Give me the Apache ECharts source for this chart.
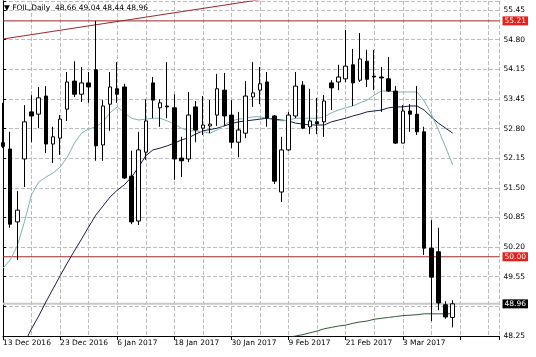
<!DOCTYPE html>
<html><head><meta charset="utf-8">
<script src="https://cdn.jsdelivr.net/npm/echarts@6/dist/echarts.min.js"></script>
<style>html,body{margin:0;padding:0;background:#fff}#c{width:536px;height:357px}</style>
</head><body><div id="c"></div>
<script>
const symbolName = 'FOIL,Daily';
const dates = ['13 Dec 2016','14 Dec 2016','15 Dec 2016','16 Dec 2016','19 Dec 2016','20 Dec 2016','21 Dec 2016','22 Dec 2016','23 Dec 2016','27 Dec 2016','28 Dec 2016','29 Dec 2016','30 Dec 2016','3 Jan 2017','4 Jan 2017','5 Jan 2017','6 Jan 2017','9 Jan 2017','10 Jan 2017','11 Jan 2017','12 Jan 2017','13 Jan 2017','16 Jan 2017','17 Jan 2017','18 Jan 2017','19 Jan 2017','20 Jan 2017','23 Jan 2017','24 Jan 2017','25 Jan 2017','26 Jan 2017','27 Jan 2017','30 Jan 2017','31 Jan 2017','1 Feb 2017','2 Feb 2017','3 Feb 2017','6 Feb 2017','7 Feb 2017','8 Feb 2017','9 Feb 2017','10 Feb 2017','13 Feb 2017','14 Feb 2017','15 Feb 2017','16 Feb 2017','17 Feb 2017','20 Feb 2017','21 Feb 2017','22 Feb 2017','23 Feb 2017','24 Feb 2017','27 Feb 2017','28 Feb 2017','1 Mar 2017','2 Mar 2017','3 Mar 2017','6 Mar 2017','7 Mar 2017','8 Mar 2017','9 Mar 2017','10 Mar 2017','13 Mar 2017','14 Mar 2017'];
const opens  = [52.52,52.38,50.77,52.16,53.20,53.15,53.55,52.49,52.62,53.26,53.88,53.59,53.84,54.13,52.47,53.37,53.71,53.75,51.78,50.79,52.31,53.84,53.29,53.33,53.29,52.18,52.16,53.31,52.84,52.89,53.13,53.68,53.13,52.53,52.73,53.53,53.68,53.86,53.11,51.43,52.36,53.11,53.79,52.87,52.98,52.98,53.84,53.86,53.93,54.24,53.90,54.32,53.99,53.97,53.93,53.66,52.51,53.22,53.15,52.76,50.19,50.11,48.94,48.66];
const highs  = [53.40,52.76,51.45,53.35,53.57,53.75,53.77,52.87,53.13,54.08,54.32,54.19,54.08,55.21,53.46,54.08,54.30,53.82,52.34,52.76,53.48,53.97,53.48,54.30,53.59,52.65,53.64,53.44,53.55,53.46,54.04,54.06,53.46,53.20,53.88,54.30,54.19,54.08,53.13,52.65,53.20,54.08,53.88,53.71,53.51,53.57,53.90,54.24,55.01,54.59,54.94,54.57,54.57,54.19,54.41,53.77,53.35,53.37,53.77,52.87,50.81,50.64,49.02,49.04];
const lows   = [52.40,50.64,49.93,51.54,52.53,52.84,52.29,52.07,52.25,53.00,53.53,53.42,53.40,52.12,52.12,52.78,53.40,51.72,50.72,50.70,52.14,53.06,52.87,53.06,51.70,51.76,52.09,52.53,52.69,52.73,52.89,52.89,52.40,52.20,52.62,53.31,53.37,52.87,51.61,51.21,52.34,53.06,52.82,52.71,52.71,52.65,53.24,53.68,53.86,53.33,53.86,53.75,53.68,53.20,53.64,52.49,52.51,52.76,52.69,50.04,48.58,48.82,48.63,48.44];
const closes = [52.44,50.72,51.03,52.98,53.11,53.51,52.49,52.65,53.04,53.86,53.59,53.84,53.75,52.45,53.33,53.75,53.59,51.74,50.77,52.36,53.00,53.46,53.40,53.31,52.16,52.12,53.13,52.80,52.91,52.93,53.71,53.11,52.53,52.80,53.55,53.62,53.82,53.06,51.67,52.36,53.13,53.77,52.84,53.00,52.94,53.44,53.73,53.97,54.21,53.84,54.37,53.92,53.97,53.95,53.66,52.51,53.22,53.15,52.76,50.19,49.55,48.98,48.67,48.96];
const maFast = [49.75,49.93,50.24,50.77,51.37,51.65,51.76,51.85,51.98,52.20,52.51,52.73,52.82,52.87,52.98,53.18,53.31,53.18,53.06,53.02,53.04,53.06,53.06,53.00,52.93,52.84,52.78,52.78,52.76,52.73,52.80,52.91,53.00,53.04,53.06,53.09,53.09,53.06,53.02,53.00,53.02,53.06,53.06,53.06,53.06,53.09,53.18,53.24,53.29,53.33,53.40,53.46,53.57,53.66,53.66,53.64,53.64,53.64,53.64,53.44,53.15,52.80,52.42,52.03];
const maMid = [null,null,null,48.10,48.41,48.69,49.00,49.29,49.58,49.86,50.13,50.39,50.66,50.92,51.12,51.32,51.47,51.59,51.76,51.98,52.23,52.36,52.40,52.45,52.51,52.58,52.63,52.71,52.78,52.81,52.84,52.89,52.94,52.98,53.00,53.02,53.04,53.06,53.04,53.02,53.00,52.95,52.93,52.91,52.91,52.91,52.98,53.02,53.06,53.11,53.15,53.20,53.22,53.24,53.29,53.31,53.31,53.33,53.33,53.24,53.09,52.95,52.84,52.73];
const maSlow = [null,null,null,null,null,null,null,null,null,null,null,null,null,null,null,null,null,null,null,null,null,null,null,null,null,null,null,null,null,null,null,null,null,null,null,null,null,null,null,48.16,48.22,48.25,48.28,48.32,48.36,48.41,48.44,48.47,48.49,48.53,48.56,48.58,48.62,48.64,48.66,48.68,48.70,48.71,48.72,48.74,48.74,48.74,48.74,48.74];
const trendLine = [[0, 54.81], [40, 55.775]];
const levelLines = [55.21, 50.00];
const lastPrice = 48.96;
const priceTickLabels = ['48.25','48.90','49.55','50.20','50.85','51.50','52.15','52.80','53.45','54.15','54.80','55.45'];

// layout
const GRID_L = 2.7, GRID_R = 36.5, GRID_T = 1, GRID_B = 21;
const X_MAX = 69.55;
const P_MIN = 48.25, P_MAX = 55.649;
const I_MAX = 11.304;
const FONT = 'DejaVu Sans';
const FS = 7.5;
const gridLine = {show: true, lineStyle: {color: '#bcbcbc', type: 'dashed', width: 1, opacity: 1}};

const candleData = opens.map((o, i) => [i, o, closes[i], lows[i], highs[i]]);
const toXY = arr => arr.map((v, i) => [i, v]);
const hLine = (name, v, color, width, bg) => ({
  type: 'line', name, xAxisIndex: 0, yAxisIndex: 0, z: 1, silent: true, clip: false,
  data: [[0, v], [X_MAX, v]], showSymbol: false, symbol: 'none',
  lineStyle: {color, width, type: 'solid'},
  endLabel: {show: true, distance: 3, color: '#fff', backgroundColor: bg, padding: [1, 2, 0, 2],
    fontFamily: FONT, fontSize: FS, formatter: () => v.toFixed(2)}
});

const chart = echarts.init(document.getElementById('c'), null, {renderer: 'canvas'});
const last = candleData.length - 1;
chart.setOption({
  animation: false,
  backgroundColor: '#ffffff',
  title: {
    text: '\u25BC ' + symbolName + '  ' + [opens[last], highs[last], lows[last], closes[last]].map(v => v.toFixed(2)).join(' '),
    left: 4, top: 4, padding: 0,
    textStyle: {fontFamily: FONT, fontSize: FS, fontWeight: 'normal', color: '#000'}
  },
  grid: {left: GRID_L, right: GRID_R, top: GRID_T, bottom: GRID_B, show: false},
  xAxis: [
    {type: 'value', min: 0, max: X_MAX, interval: 4,
     axisLine: {show: true, lineStyle: {color: '#000', width: 1}}, axisTick: {show: false}, axisLabel: {show: false},
     splitLine: gridLine},
    {type: 'value', min: 0, max: X_MAX, interval: 8, position: 'bottom',
     axisLine: {show: false}, axisTick: {show: true, length: 4, lineStyle: {color: '#000'}},
     axisLabel: {show: true, showMinLabel: true, showMaxLabel: true, align: 'left', margin: 3,
       fontFamily: FONT, fontSize: FS, color: '#000',
       formatter: v => (Number.isInteger(v) && v % 8 === 0 && dates[v]) ? dates[v] : ''},
     splitLine: {show: false}}
  ],
  yAxis: [
    {type: 'value', min: P_MIN, max: P_MAX, position: 'left',
     axisLine: {show: true, lineStyle: {color: '#000'}}, axisTick: {show: false}, axisLabel: {show: false}, splitLine: {show: false}},
    {type: 'value', min: 0, max: I_MAX, interval: 1, position: 'right',
     axisLine: {show: true, lineStyle: {color: '#000'}}, axisTick: {show: true, length: 3, lineStyle: {color: '#000'}},
     axisLabel: {show: true, showMinLabel: true, showMaxLabel: true, margin: 4, fontFamily: FONT, fontSize: FS, color: '#000',
       formatter: v => Number.isInteger(v) ? priceTickLabels[v] : ''},
     splitLine: gridLine}
  ],
  series: [
    hLine('level1', levelLines[0], '#a02828', 1, '#e3201b'),
    hLine('level2', levelLines[1], '#a02828', 1, '#e3201b'),
    hLine('last', lastPrice, '#c8c8c8', 2, '#000000'),
    {type: 'line', name: 'MA slow', data: toXY(maSlow), xAxisIndex: 0, yAxisIndex: 0, showSymbol: false, symbol: 'none', z: 2, silent: true,
     lineStyle: {color: '#2e5a36', width: 1}, clip: true},
    {type: 'line', name: 'MA mid', data: toXY(maMid), xAxisIndex: 0, yAxisIndex: 0, showSymbol: false, symbol: 'none', z: 2, silent: true,
     lineStyle: {color: '#1c1c4c', width: 1}, clip: true},
    {type: 'line', name: 'MA fast', data: toXY(maFast), xAxisIndex: 0, yAxisIndex: 0, showSymbol: false, symbol: 'none', z: 2, silent: true,
     lineStyle: {color: '#7fb3b1', width: 1}, clip: true},
    {type: 'line', name: 'trend', data: trendLine, xAxisIndex: 0, yAxisIndex: 0, showSymbol: false, symbol: 'none', z: 2, silent: true,
     lineStyle: {color: '#a02828', width: 1}, clip: true},
    {type: 'candlestick', name: 'FOIL', data: candleData, xAxisIndex: 0, yAxisIndex: 0, encode: {x: 0, y: [1, 2, 3, 4]},
     barWidth: 4, z: 3, silent: true, clip: true,
     itemStyle: {color: '#ffffff', color0: '#000000', borderColor: '#000000', borderColor0: '#000000', borderWidth: 1}}
  ]
});
</script>
</body></html>
